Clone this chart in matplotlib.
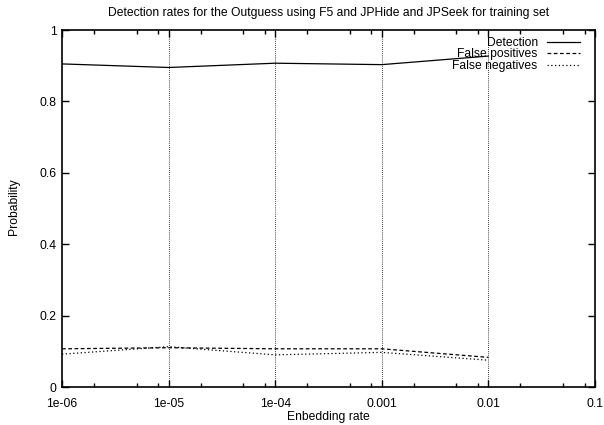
import numpy as np
import matplotlib.pyplot as plt
from matplotlib.ticker import FixedLocator, NullFormatter

# data
rates = [1e-6, 1e-5, 1e-4, 1e-3, 1e-2]
detection = [0.905, 0.895, 0.907, 0.903, 0.927]
false_pos = [0.107, 0.110, 0.107, 0.107, 0.083]
false_neg = [0.092, 0.113, 0.090, 0.097, 0.075]

x_ticks = [1e-6, 1e-5, 1e-4, 1e-3, 1e-2, 1e-1]
x_labels = ["1e-06", "1e-05", "1e-04", "0.001", "0.01", "0.1"]
y_ticks = [0, 0.2, 0.4, 0.6, 0.8, 1]
y_labels = ["0", "0.2", "0.4", "0.6", "0.8", "1"]


def main():
    plt.rcParams['font.family'] = ['Liberation Sans', 'DejaVu Sans']
    fs = 8.7

    fig = plt.figure(figsize=(6.04, 4.25), dpi=100)
    ax = fig.add_axes([62/604, 1 - 387/425, (595-62)/604, (387-30)/425])

    ax.plot(rates, detection, color='black', lw=0.9, ls='-', label='Detection')
    ax.plot(rates, false_pos, color='black', lw=0.9, ls=(0, (3, 2)), label='False positives')
    ax.plot(rates, false_neg, color='black', lw=0.9, ls=(0, (1, 2)), label='False negatives')

    ax.set_xscale('log')
    ax.set_xlim(1e-6, 1e-1)
    ax.set_ylim(0, 1)

    ax.set_xticks(x_ticks)
    ax.set_xticklabels(x_labels)
    minors = [m * 10.0**e for e in range(-6, -1) for m in (2, 5, 8)]
    ax.xaxis.set_minor_locator(FixedLocator(minors))
    ax.xaxis.set_minor_formatter(NullFormatter())
    ax.set_yticks(y_ticks)
    ax.set_yticklabels(y_labels)

    ax.tick_params(which='both', direction='in', top=True, right=True,
                   labelsize=fs, colors='black', width=1.0)
    ax.tick_params(which='major', length=5, pad=4)
    ax.tick_params(which='minor', length=3)
    ax.tick_params(axis='x', which='major', pad=8)

    for x in x_ticks[1:-1]:
        ax.axvline(x, color='black', lw=0.6, ls=(0, (1, 1.5)), zorder=0)

    for s in ax.spines.values():
        s.set_linewidth(1.2)

    ax.set_title("Detection rates for the Outguess using F5 and JPHide and JPSeek for training set",
                 fontsize=fs, pad=10)
    # axis labels placed directly, the bottom margin is tight
    fig.text(328.5/604, 1 - 417/425, "Enbedding rate", fontsize=fs,
             ha='center', va='center')
    fig.text(14/604, 1 - 207/425, "Probability", fontsize=fs,
             ha='center', va='center', rotation=90)

    leg = ax.legend(loc='upper right', bbox_to_anchor=(1 - 15/533, 1 - 7/357),
                    frameon=False, markerfirst=False, borderpad=0, borderaxespad=0,
                    fontsize=fs, handlelength=2.7, handletextpad=0.8,
                    labelspacing=-0.05)
    for t in leg.get_texts():
        t.set_ha('right')
    leg._legend_box.align = 'right'

    fig.savefig('out.png', dpi=100)


if __name__ == "__main__":
    main()
